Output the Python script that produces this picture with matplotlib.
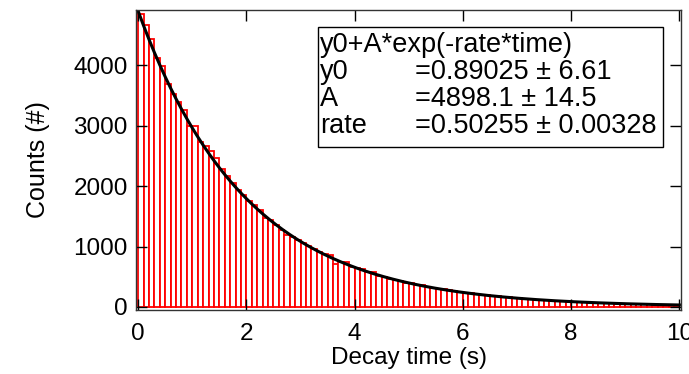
import numpy as np
import matplotlib.pyplot as plt

plt.rcParams['font.family'] = ['Liberation Sans', 'DejaVu Sans']

# histogram of decay times, bins of 0.1 s from 0 to 10 s
bin_width = 0.1
counts = [4846, 4669, 4437, 4122, 3990, 3690, 3520, 3400, 3262, 3000,
          2990, 2740, 2665, 2583, 2467, 2285, 2169, 2050, 1930, 1850,
          1760, 1689, 1606, 1468, 1440, 1358, 1275, 1192, 1154, 1110,
          1065, 1010, 960, 915, 870, 856, 712, 745, 745, 667,
          640, 629, 584, 584, 513, 500, 470, 455, 430, 405,
          392, 372, 356, 335, 322, 305, 290, 276, 262, 250,
          237, 224, 215, 204, 193, 183, 175, 165, 158, 150,
          142, 135, 128, 122, 116, 110, 105, 99, 95, 90,
          85, 81, 77, 73, 70, 66, 63, 60, 57, 54,
          51, 49, 46, 44, 42, 40, 38, 36, 34, 33]

# fit results shown in the box
fit_formula = "y0+A*exp(-rate*time)"
y0, A, rate = 0.89025, 4898.1, 0.50255
fit_names = ["y0", "A", "rate"]
fit_texts = ["=0.89025 \u00b1 6.61", "=4898.1 \u00b1 14.5", "=0.50255 \u00b1 0.00328"]

xticks = [0, 2, 4, 6, 8, 10]
yticks = [0, 1000, 2000, 3000, 4000]

fig = plt.figure(figsize=(6.89, 3.74), dpi=100)
ax = fig.add_axes([0.1974, 0.1711, 0.791, 0.802])

edges = np.arange(len(counts)) * bin_width
ax.bar(edges, counts, width=bin_width, align='edge', facecolor='white',
       edgecolor='red', linewidth=1.3)

t = np.linspace(0, 10, 400)
ax.plot(t, y0 + A * np.exp(-rate * t), color='black', linewidth=2.2)

ax.set_xlim(-0.04, 10.03)
ax.set_ylim(-50, 4917)
ax.set_xticks(xticks)
ax.set_yticks(yticks)
ax.tick_params(direction='in', length=8, width=1, top=True, right=True,
               labelsize=17.5)
ax.tick_params(axis='x', pad=9)
ax.tick_params(axis='y', pad=6)
for s in ax.spines.values():
    s.set_linewidth(1.0)
    s.set_color('#333333')

ax.set_xlabel("Decay time (s)", fontsize=17.5, labelpad=2)
ax.set_ylabel("Counts (#)", fontsize=18, labelpad=17)

box = plt.Rectangle((0.334, 0.543), 0.633, 0.40, transform=ax.transAxes,
                    facecolor='white', edgecolor='black', linewidth=1.0, zorder=5)
ax.add_patch(box)
fs = 19.5
ax.text(0.337, 0.883, fit_formula, transform=ax.transAxes, fontsize=fs,
        va='center', ha='left', zorder=6)
for i, (n, v) in enumerate(zip(fit_names, fit_texts)):
    yy = 0.793 - 0.09 * i
    ax.text(0.337, yy, n, transform=ax.transAxes, fontsize=fs, va='center', ha='left', zorder=6)
    ax.text(0.512, yy, v, transform=ax.transAxes, fontsize=fs, va='center', ha='left', zorder=6)

fig.savefig("out.png", dpi=100)
